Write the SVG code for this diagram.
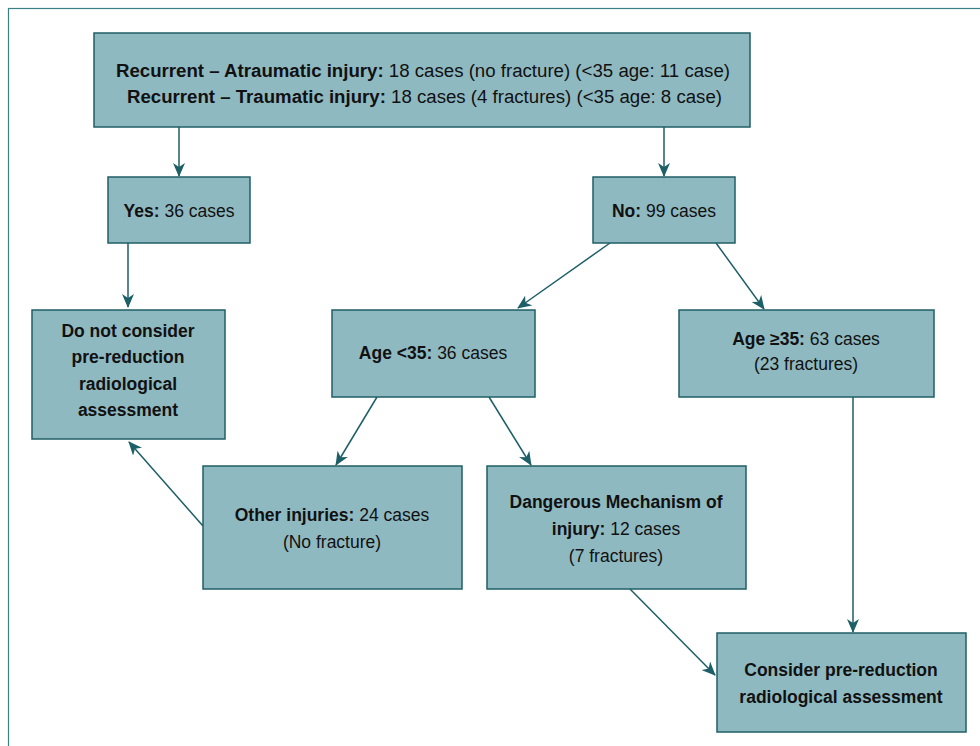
<svg xmlns="http://www.w3.org/2000/svg" width="980" height="746" viewBox="0 0 980 746">
<defs>
<marker id="ah" viewBox="0 0 14 12" refX="13" refY="6" markerWidth="14" markerHeight="12" markerUnits="userSpaceOnUse" orient="auto">
<path d="M0,0 L14,6 L0,12 L4,6 Z" fill="#1c5f66"/>
</marker>
<style>
.box{fill:#8fb9c1;stroke:#1f5f66;stroke-width:1.5}
.t{font-family:"Liberation Sans",Arial,sans-serif;font-size:17.5px;fill:#111;text-anchor:middle}
.h{font-size:18px}
.b{font-weight:bold}
.c{stroke:#1c5f66;stroke-width:1.5;fill:none;marker-end:url(#ah)}
</style>
</defs>
<rect x="0" y="0" width="980" height="746" fill="#fff"/>
<rect x="8.5" y="8.5" width="1000" height="800" fill="none" stroke="#3a8084" stroke-width="1.2"/>
<g id="connectors">
<line class="c" x1="179" y1="127" x2="179" y2="176"/>
<line class="c" x1="664" y1="127" x2="664" y2="176"/>
<line class="c" x1="128" y1="243" x2="128" y2="307"/>
<line class="c" x1="610" y1="243" x2="518" y2="308"/>
<line class="c" x1="716" y1="243" x2="764" y2="309"/>
<line class="c" x1="377" y1="397" x2="336" y2="465"/>
<line class="c" x1="489" y1="397" x2="531" y2="465"/>
<line class="c" x1="853" y1="397" x2="853" y2="632"/>
<line class="c" x1="203" y1="526" x2="129" y2="442"/>
<line class="c" x1="630" y1="589" x2="715" y2="675"/>
</g>
<g id="n_top">
<rect class="box" x="94" y="33" width="656" height="94"/>
<text class="t h" x="423" y="76.5" textLength="614" lengthAdjust="spacingAndGlyphs"><tspan class="b">Recurrent – Atraumatic injury:</tspan> 18 cases (no fracture) (&lt;35 age: 11 case)</text>
<text class="t h" x="424.5" y="102.5" textLength="595" lengthAdjust="spacingAndGlyphs"><tspan class="b">Recurrent – Traumatic injury:</tspan> 18 cases (4 fractures) (&lt;35 age: 8 case)</text>
</g>
<g id="n_yes">
<rect class="box" x="108" y="177" width="142" height="66"/>
<text class="t" x="179" y="217"><tspan class="b">Yes:</tspan> 36 cases</text>
</g>
<g id="n_no">
<rect class="box" x="593" y="177" width="142" height="66"/>
<text class="t" x="664" y="217"><tspan class="b">No:</tspan> 99 cases</text>
</g>
<g id="n_donot">
<rect class="box" x="32" y="310" width="193" height="129"/>
<text class="t b" x="128" y="337">Do not consider</text>
<text class="t b" x="128" y="363">pre-reduction</text>
<text class="t b" x="128" y="390">radiological</text>
<text class="t b" x="128" y="416">assessment</text>
</g>
<g id="n_lt35">
<rect class="box" x="332" y="310" width="203" height="87"/>
<text class="t" x="433" y="359"><tspan class="b">Age &lt;35:</tspan> 36 cases</text>
</g>
<g id="n_ge35">
<rect class="box" x="679" y="310" width="255" height="87"/>
<text class="t" x="806" y="345"><tspan class="b">Age ≥35:</tspan> 63 cases</text>
<text class="t" x="806" y="370">(23 fractures)</text>
</g>
<g id="n_other">
<rect class="box" x="203" y="466" width="259" height="123"/>
<text class="t" x="332" y="521"><tspan class="b">Other injuries:</tspan> 24 cases</text>
<text class="t" x="332" y="548">(No fracture)</text>
</g>
<g id="n_danger">
<rect class="box" x="487" y="466" width="259" height="123"/>
<text class="t" x="616" y="508"><tspan class="b">Dangerous Mechanism of</tspan></text>
<text class="t" x="616" y="535"><tspan class="b">injury:</tspan> 12 cases</text>
<text class="t" x="616" y="562">(7 fractures)</text>
</g>
<g id="n_consider">
<rect class="box" x="717" y="633" width="249" height="99"/>
<text class="t b" x="841" y="676">Consider pre-reduction</text>
<text class="t b" x="841" y="703">radiological assessment</text>
</g>
</svg>
